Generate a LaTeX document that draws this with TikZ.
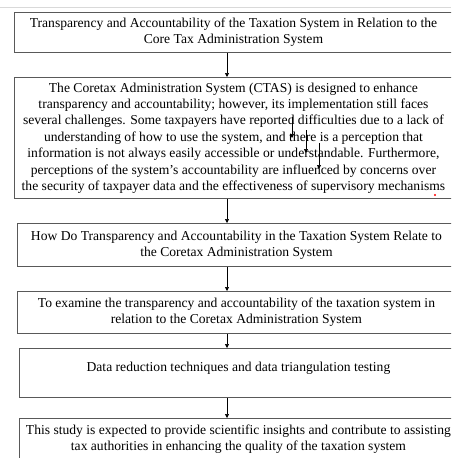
\documentclass[tikz,border=0pt]{standalone}
\usepackage{fontspec}
\setmainfont{Liberation Serif}
\usetikzlibrary{arrows.meta}

\begin{document}
\begin{tikzpicture}[
            x=1pt, y=-1pt,
            box/.style={rectangle, draw=black!65, line width=0.9pt, anchor=north west,
                minimum width=438pt, inner xsep=1pt, inner ysep=1pt, align=center,
                font=\fontsize{13.6}{16.4}\selectfont},
            flow/.style={-{Triangle[length=4pt,width=4pt]}, line width=0.7pt},
            every node/.style={align=center}
    ]
        \useasboundingbox (0,0) rectangle (451,458);
        \clip (0,0) rectangle (451,458);

        % Window edge
        \draw[black!15, line width=1pt] (0,7) -- (451,7);

        % Boxes
        \node[box, minimum height=40pt] (title) at (14,12)
            {Transparency and Accountability of the Taxation System in Relation to the\\
             Core Tax Administration System};
        \node[box, minimum height=121pt] (bg) at (14,77)
            {The Coretax Administration System (CTAS) is designed to enhance\\
             transparency and accountability; however, its implementation still faces\\
             several challenges. Some taxpayers have reported difficulties due to a lack of\\
             understanding of how to use the system, and there is a perception that\\
             information is not always easily accessible or understandable. Furthermore,\\
             perceptions of the system's accountability are influenced by concerns over\\
             the security of taxpayer data and the effectiveness of supervisory mechanisms};
        \node[box, minimum height=43pt] (question) at (17,223)
            {How Do Transparency and Accountability in the Taxation System Relate to\\
             the Coretax Administration System};
        \node[box, minimum height=42pt] (aim) at (17,291)
            {To examine the transparency and accountability of the taxation system in\\
             relation to the Coretax Administration System};
        \node[box, minimum height=49pt] (method) at (19,348)
            {Data reduction techniques and data triangulation testing\\[-4pt]\mbox{}};
        \node[box, minimum height=42pt] (result) at (19,418)
            {This study is expected to provide scientific insights and contribute to assisting\\
             tax authorities in enhancing the quality of the taxation system};

        % Arrows
        \coordinate (axis) at (227,0);
        \draw[flow] (title.south -| axis) -- (bg.north -| axis);
        \draw[flow] (bg.south -| axis) -- (question.north -| axis);
        \draw[flow] (question.south -| axis) -- (aim.north -| axis);
        \draw[flow] (aim.south -| axis) -- (method.north -| axis);
        \draw[flow] (method.south -| axis) -- (result.north -| axis);

        % Stray arrows inside the background box
        \coordinate (s1a) at (292,117);  \coordinate (s1b) at (292,138);
        \coordinate (s2a) at (306,130);  \coordinate (s2b) at (306,153);
        \coordinate (s3a) at (319,143);  \coordinate (s3b) at (319,169);
        \draw[flow] (s1a) -- (s1b);
        \draw[flow] (s2a) -- (s2b);
        \draw[flow] (s3a) -- (s3b);

        % Spelling mark
        \node[circle, fill=red, inner sep=0.8pt] (dot) at (435,195) {};

    \end{tikzpicture}
\end{document}
